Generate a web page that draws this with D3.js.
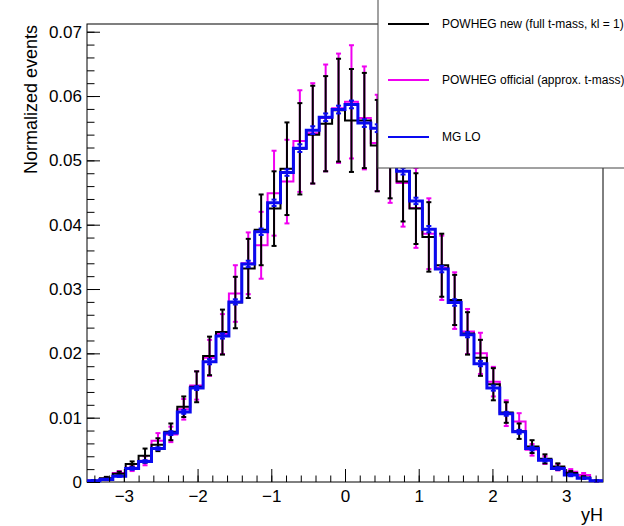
<!DOCTYPE html>
<html>
<head>
<meta charset="utf-8">
<script src="https://cdn.jsdelivr.net/npm/d3@7"></script>
<style>
  html, body { margin: 0; padding: 0; background: #fff; }
  svg text { font-family: "Liberation Sans", Arial, Helvetica, sans-serif; }
</style>
</head>
<body>
<svg id="chart" width="624" height="526"></svg>
<script>
// yH binning: 40 bins from -3.5 to 3.5
const xMin = -3.5
const xMax = 3.5
const nBins = 40

// POWHEG new (full t-mass, kl = 1)
const newVals = [0.0002, 0.0006, 0.0013, 0.0028, 0.0041, 0.0058, 0.0078, 0.0117, 0.0148, 0.0196,
  0.0233, 0.0279, 0.0332, 0.0392, 0.0425, 0.0487, 0.0518, 0.0540, 0.0557, 0.0578,
  0.0562, 0.0562, 0.0523, 0.0512, 0.0467, 0.0425, 0.0381, 0.0337, 0.0283, 0.0231,
  0.0193, 0.0152, 0.0108, 0.0079, 0.0055, 0.0036, 0.0024, 0.0014, 0.0007, 0.0002]
const newErrs = [0.0001, 0.0002, 0.0003, 0.0004, 0.0011, 0.0010, 0.0013, 0.0016, 0.0024, 0.0030,
  0.0035, 0.0040, 0.0046, 0.0055, 0.0058, 0.0072, 0.0071, 0.0076, 0.0074, 0.0080,
  0.0080, 0.0074, 0.0071, 0.0071, 0.0062, 0.0055, 0.0054, 0.0049, 0.0039, 0.0033,
  0.0028, 0.0025, 0.0016, 0.0012, 0.0010, 0.0007, 0.0005, 0.0003, 0.0002, 0.0001]

// POWHEG official (approx. t-mass)
const offVals = [0.0002, 0.0005, 0.0014, 0.0022, 0.0033, 0.0064, 0.0074, 0.0113, 0.0150, 0.0193,
  0.0230, 0.0293, 0.0340, 0.0368, 0.0449, 0.0467, 0.0530, 0.0542, 0.0566, 0.0581,
  0.0591, 0.0566, 0.0527, 0.0510, 0.0465, 0.0426, 0.0386, 0.0333, 0.0282, 0.0234,
  0.0200, 0.0156, 0.0107, 0.0094, 0.0050, 0.0034, 0.0023, 0.0016, 0.0011, 0.0002]
const offErrs = [0.0001, 0.0002, 0.0003, 0.0005, 0.0007, 0.0012, 0.0012, 0.0016, 0.0022, 0.0028,
  0.0031, 0.0044, 0.0048, 0.0052, 0.0066, 0.0065, 0.0079, 0.0078, 0.0083, 0.0085,
  0.0088, 0.0080, 0.0075, 0.0076, 0.0068, 0.0062, 0.0055, 0.0050, 0.0044, 0.0035,
  0.0032, 0.0023, 0.0020, 0.0013, 0.0009, 0.0006, 0.0005, 0.0004, 0.0003, 0.0001]

// MG LO
const mgVals = [0.0002, 0.0004, 0.0009, 0.0021, 0.0032, 0.0052, 0.0076, 0.0109, 0.0146, 0.0187,
  0.0227, 0.0280, 0.0339, 0.0389, 0.0434, 0.0481, 0.0519, 0.0547, 0.0567, 0.0579,
  0.0587, 0.0558, 0.0550, 0.0515, 0.0483, 0.0437, 0.0393, 0.0331, 0.0279, 0.0229,
  0.0184, 0.0146, 0.0106, 0.0078, 0.0052, 0.0034, 0.0021, 0.0011, 0.0006, 0.0002]
const mgErrs = [0.0001, 0.0001, 0.0001, 0.0002, 0.0002, 0.0002, 0.0003, 0.0003, 0.0003, 0.0004,
  0.0004, 0.0004, 0.0005, 0.0005, 0.0005, 0.0005, 0.0006, 0.0006, 0.0006, 0.0006,
  0.0006, 0.0006, 0.0006, 0.0006, 0.0005, 0.0005, 0.0005, 0.0005, 0.0005, 0.0004,
  0.0004, 0.0004, 0.0003, 0.0003, 0.0003, 0.0002, 0.0002, 0.0002, 0.0001, 0.0001]

const yMajorTicks = [0, 0.01, 0.02, 0.03, 0.04, 0.05, 0.06, 0.07]
const xMajorTicks = [-3, -2, -1, 0, 1, 2, 3]
const legendLabels = ["POWHEG new (full t-mass, kl = 1)", "POWHEG official (approx. t-mass)", "MG LO"]

const series = [
  {name: legendLabels[1], vals: offVals, errs: offErrs, color: "#f000f0", width: 2},
  {name: legendLabels[0], vals: newVals, errs: newErrs, color: "#000000", width: 2},
  {name: legendLabels[2], vals: mgVals, errs: mgErrs, color: "#0a0af0", width: 3},
]

const svg = d3.select("#chart")
const m = {left: 87, right: 603, top: 24, bottom: 482}

const x = d3.scaleLinear().domain([xMin, xMax]).range([m.left, m.right])
const y = d3.scaleLinear().domain([0, 0.0712]).range([m.bottom, m.top])

const binW = (xMax - xMin) / nBins
const edges = d3.range(nBins + 1).map((i) => xMin + i * binW)
const centers = d3.range(nBins).map((i) => xMin + (i + 0.5) * binW)

// frame
svg.append("rect")
  .attr("x", m.left).attr("y", m.top)
  .attr("width", m.right - m.left).attr("height", m.bottom - m.top)
  .attr("fill", "none").attr("stroke", "#000").attr("stroke-width", 1)

// histograms
const step = d3.line().x((d) => x(d[0])).y((d) => y(d[1])).curve(d3.curveStepAfter)
const plot = svg.append("g")

series.forEach((s) => {
  const pts = s.vals.map((v, i) => [edges[i], v])
  pts.push([edges[nBins], s.vals[nBins - 1]])
  const g = plot.append("g")
  g.append("path")
    .attr("d", step(pts))
    .attr("fill", "none")
    .attr("stroke", s.color)
    .attr("stroke-width", s.width)

  const bars = g.selectAll("g.err").data(s.vals.map((v, i) => ({c: centers[i], v, e: s.errs[i]})))
    .join("g").attr("class", "err")
  bars.append("line")
    .attr("x1", (d) => x(d.c)).attr("x2", (d) => x(d.c))
    .attr("y1", (d) => y(d.v - d.e)).attr("y2", (d) => y(d.v + d.e))
    .attr("stroke", s.color).attr("stroke-width", 2)
  ;[-1, 1].forEach((sg) => {
    bars.append("line")
      .attr("x1", (d) => x(d.c) - 2.5).attr("x2", (d) => x(d.c) + 2.5)
      .attr("y1", (d) => y(d.v + sg * d.e)).attr("y2", (d) => y(d.v + sg * d.e))
      .attr("stroke", s.color).attr("stroke-width", 2)
  })
})

// axes (ROOT style, ticks inside)
const styleAxis = (gg) => {
  gg.select(".domain").remove()
  gg.selectAll("line").attr("stroke", "#000")
  gg.selectAll("text").attr("font-size", 17).attr("fill", "#000")
}

const yMinor = d3.range(0, 0.0711, 0.002)
svg.append("g").attr("transform", `translate(${m.left},0)`)
  .call(d3.axisLeft(y).tickValues(yMinor).tickSize(-7.5).tickFormat(""))
  .call(styleAxis)
svg.append("g").attr("transform", `translate(${m.left},0)`)
  .call(d3.axisLeft(y).tickValues(yMajorTicks).tickSize(-13).tickPadding(5)
    .tickFormat((d) => (d === 0 ? "0" : d3.format(".2f")(d))))
  .call(styleAxis)

const xMinor = d3.range(-3.4, 3.41, 0.2)
svg.append("g").attr("transform", `translate(0,${m.bottom})`)
  .call(d3.axisBottom(x).tickValues(xMinor).tickSize(-6.5).tickFormat(""))
  .call(styleAxis)
svg.append("g").attr("transform", `translate(0,${m.bottom})`)
  .call(d3.axisBottom(x).tickValues(xMajorTicks).tickSize(-13).tickPadding(8).tickFormat(d3.format("d")))
  .call(styleAxis)

// axis titles
svg.append("text")
  .attr("x", m.right).attr("y", 521)
  .attr("text-anchor", "end").attr("font-size", 18)
  .text("yH")
svg.append("text")
  .attr("transform", `translate(37,${m.top + 1}) rotate(-90)`)
  .attr("text-anchor", "end").attr("font-size", 18)
  .text("Normalized events")

// legend
const leg = svg.append("g")
leg.append("rect")
  .attr("x", 378).attr("y", -5).attr("width", 260).attr("height", 173)
  .attr("fill", "#fff").attr("stroke", "#444").attr("stroke-width", 1)
const legItems = [
  {label: legendLabels[0], color: "#000000", ly: 24},
  {label: legendLabels[1], color: "#f000f0", ly: 80},
  {label: legendLabels[2], color: "#0a0af0", ly: 137},
]
legItems.forEach((it) => {
  leg.append("line")
    .attr("x1", 388).attr("x2", 429).attr("y1", it.ly).attr("y2", it.ly)
    .attr("stroke", it.color).attr("stroke-width", 2)
  leg.append("text")
    .attr("x", 442).attr("y", it.ly).attr("dy", "0.35em")
    .attr("font-size", 12).attr("fill", "#000")
    .text(it.label)
})
</script>
</body>
</html>
